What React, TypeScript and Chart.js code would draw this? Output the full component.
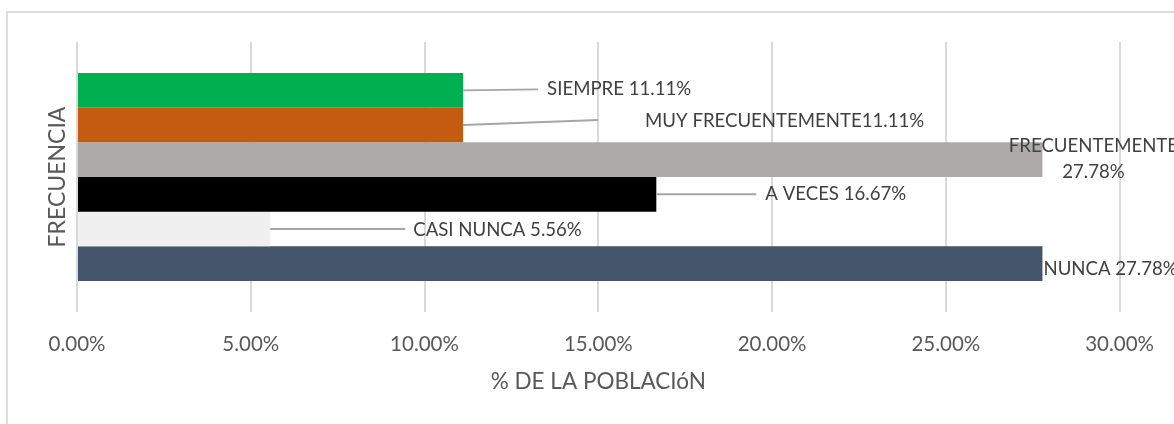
import React, { useEffect, useRef } from 'react';
import { Chart, registerables } from 'chart.js';

Chart.register(...registerables);

// ---- data ----
const CATEGORIES = ['FRECUENCIA'];
const SERIES_NAMES = ['SIEMPRE', 'MUY FRECUENTEMENTE', 'FRECUENTEMENTE', 'A VECES', 'CASI NUNCA', 'NUNCA'];
const SERIES_VALUES = [11.11, 11.11, 27.78, 16.67, 5.56, 27.78];
const X_TICKS = [0, 5, 10, 15, 20, 25, 30];
const X_TITLE = '% DE LA POBLACIóN';
const Y_TITLE = 'FRECUENCIA';
const LABEL_SEPARATORS = [' ', '', '\n', ' ', ' ', ' '];

// ---- styles / layout ----
const SERIES_COLORS = ['#00B050', '#C55A11', '#AEAAAA', '#000000', '#F0F0F0', '#44546A'];
// label placement relative to the bar end (Excel hand-moved labels)
const LABEL_LAYOUT = [
  { dx: 84, dy: -1, align: 'left', leader: [75, -1] },
  { dx: 182, dy: -4, align: 'left', leader: [135, -5] },
  { dx: 51, dy: -1, align: 'center', leader: null },
  { dx: 109, dy: 0, align: 'left', leader: [100, 0] },
  { dx: 143, dy: 1, align: 'left', leader: [135, 0] },
  { dx: 1, dy: 5, align: 'left', leader: null },
];
const FONT = 'Lato';
const fmt = (v: number) => v.toFixed(2) + '%';

const labelPlugin = {
  id: 'excelLabels',
  afterDatasetsDraw(chart: any) {
    const ctx = chart.ctx;
    ctx.save();
    ctx.font = `18.6px ${FONT}`;
    ctx.fillStyle = '#404040';
    ctx.textBaseline = 'middle';
    chart.data.datasets.forEach((ds: any, i: number) => {
      const bar = chart.getDatasetMeta(i).data[0];
      if (!bar) return;
      const { x, y } = bar.getProps(['x', 'y'], true);
      const L = LABEL_LAYOUT[i];
      if (L.leader) {
        ctx.strokeStyle = '#A6A6A6';
        ctx.lineWidth = 2;
        ctx.beginPath();
        ctx.moveTo(x, y);
        ctx.lineTo(x + L.leader[0], y + L.leader[1]);
        ctx.stroke();
      }
      const text = SERIES_NAMES[i] + LABEL_SEPARATORS[i] + fmt(ds.data[0]);
      const lines = text.split('\n');
      ctx.textAlign = L.align;
      lines.forEach((ln: string, k: number) => {
        ctx.fillText(ln, x + L.dx, y + L.dy + (k - (lines.length - 1) / 2) * 26);
      });
    });
    ctx.restore();
  },
};

export default function App() {
  const ref = useRef<HTMLCanvasElement>(null);
  useEffect(() => {
    if (!ref.current) return;
    const chart = new Chart(ref.current, {
      type: 'bar',
      data: {
        labels: CATEGORIES,
        datasets: SERIES_NAMES.map((name, i) => ({
          label: name,
          data: [SERIES_VALUES[i]],
          backgroundColor: SERIES_COLORS[i],
          borderWidth: 0,
          categoryPercentage: 0.77,
          barPercentage: 1,
        })),
      },
      options: {
        indexAxis: 'y',
        animation: false,
        responsive: false,
        maintainAspectRatio: false,
        layout: { padding: { top: 42, right: 53, bottom: 0, left: 0 } },
        plugins: { legend: { display: false }, tooltip: { enabled: false } },
        scales: {
          x: {
            type: 'linear',
            min: 0,
            max: 30,
            afterBuildTicks: (s: any) => { s.ticks = X_TICKS.map((v) => ({ value: v })); },
            afterFit: (s: any) => { s.height = 112; },
            grid: { color: '#D9D9D9', lineWidth: 2, drawTicks: false },
            border: { display: false },
            ticks: {
              padding: 20,
              color: '#595959',
              font: { family: FONT, size: 20.5 },
              callback: (v: any) => fmt(Number(v)),
            },
            title: {
              display: true,
              text: X_TITLE,
              color: '#595959',
              font: { family: FONT, size: 22.5 },
              padding: { top: 0, bottom: 29 },
            },
          },
          y: {
            type: 'category',
            afterFit: (s: any) => { s.width = 77; },
            grid: { display: false },
            border: { display: false },
            ticks: { display: false },
            title: {
              display: true,
              text: Y_TITLE,
              color: '#595959',
              font: { family: FONT, size: 23 },
              padding: { top: 44, bottom: 0 },
            },
          },
        },
      },
      plugins: [labelPlugin],
    });
    return () => chart.destroy();
  }, []);

  return (
    <div style={{ position: 'fixed', left: 0, top: 0, width: 1174, height: 424, background: '#fff', overflow: 'hidden' }}>
      <div style={{ position: 'absolute', left: 6, top: 11, width: 1300, height: 600, border: '2px solid #DCDCDC' }} />
      <canvas ref={ref} width={1174} height={424} style={{ position: 'absolute', left: 0, top: 0 }} />
    </div>
  );
}
